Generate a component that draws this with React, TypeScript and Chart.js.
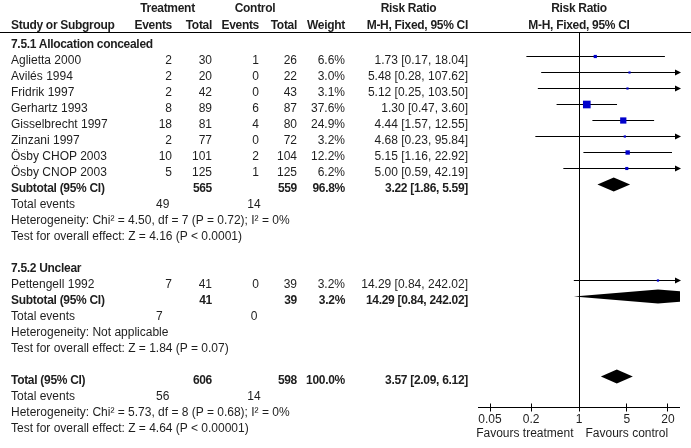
import React, { useEffect, useRef } from "react";
import { Chart, registerables } from "chart.js";

Chart.register(...registerables);

// ---------- data ----------
const subgroups = ["7.5.1 Allocation concealed", "7.5.2 Unclear"];
const studies = [
  "Aglietta 2000",
  "Avilés 1994",
  "Fridrik 1997",
  "Gerhartz 1993",
  "Gisselbrecht 1997",
  "Zinzani 1997",
  "Ösby CHOP 2003",
  "Ösby CNOP 2003",
  "Pettengell 1992",
];
const studyGroup = [1, 1, 1, 1, 1, 1, 1, 1, 2];
const treatEvents = [2, 2, 2, 8, 18, 2, 10, 5, 7];
const treatTotal = [30, 20, 42, 89, 81, 77, 101, 125, 41];
const ctrlEvents = [1, 0, 0, 6, 4, 0, 2, 1, 0];
const ctrlTotal = [26, 22, 43, 87, 80, 72, 104, 125, 39];
const weights = [6.6, 3.0, 3.1, 37.6, 24.9, 3.2, 12.2, 6.2, 3.2];
const rr = [1.73, 5.48, 5.12, 1.3, 4.44, 4.68, 5.15, 5.0, 14.29];
const rrLow = [0.17, 0.28, 0.25, 0.47, 1.57, 0.23, 1.16, 0.59, 0.84];
const rrHigh = [18.04, 107.62, 103.5, 3.6, 12.55, 95.84, 22.92, 42.19, 242.02];

const pooledLabels = ["Subtotal (95% CI)", "Subtotal (95% CI)", "Total (95% CI)"];
const pooledTreatTotal = [565, 41, 606];
const pooledCtrlTotal = [559, 39, 598];
const pooledWeight = [96.8, 3.2, 100.0];
const pooledRR = [3.22, 14.29, 3.57];
const pooledLow = [1.86, 0.84, 2.09];
const pooledHigh = [5.59, 242.02, 6.12];
const totalEventsTreat = [49, 7, 56];
const totalEventsCtrl = [14, 0, 14];
const heterogeneity = [
  "Heterogeneity: Chi² = 4.50, df = 7 (P = 0.72); I² = 0%",
  "Heterogeneity: Not applicable",
  "Heterogeneity: Chi² = 5.73, df = 8 (P = 0.68); I² = 0%",
];
const overallEffect = [
  "Test for overall effect: Z = 4.16 (P < 0.0001)",
  "Test for overall effect: Z = 1.84 (P = 0.07)",
  "Test for overall effect: Z = 4.64 (P < 0.00001)",
];
const axisTicks = [0.05, 0.2, 1, 5, 20];
const axisTickLabels = ["0.05", "0.2", "1", "5", "20"];
const favoursLeft = "Favours treatment";
const favoursRight = "Favours control";

// ---------- layout ----------
const W = 691;
const H = 448;
const FONT = '"Liberation Sans", Arial, Helvetica, sans-serif';
const TEXT = "#1e1e1e";
const ROW0 = 40.5;
const ROWH = 16;
const rowPx = (k: number) => ROW0 + ROWH * k;
const textY = (k: number) => rowPx(k) + 3;

const groupRow: number[] = [];
const studyRow: number[] = [];
const pooledRow: number[] = [];
const eventsRow: number[] = [];
const hetRow: number[] = [];
const testRow: number[] = [];
{
  let k = 0;
  for (let g = 0; g < subgroups.length; g++) {
    groupRow.push(k++);
    studyGroup.forEach((sg, i) => {
      if (sg === g + 1) studyRow[i] = k++;
    });
    pooledRow.push(k);
    eventsRow.push(k + 1);
    hetRow.push(k + 2);
    testRow.push(k + 3);
    k += 5;
  }
  pooledRow.push(k);
  eventsRow.push(k + 1);
  hetRow.push(k + 2);
  testRow.push(k + 3);
}

const fmtCI = (m: number, l: number, h: number) =>
  `${m.toFixed(2)} [${l.toFixed(2)}, ${h.toFixed(2)}]`;

function Txt(props: {
  x: number;
  y: number;
  align?: "left" | "right" | "center";
  bold?: boolean;
  children: any;
}) {
  const { x, y, align = "left", bold = false, children } = props;
  const style: any = {
    position: "absolute",
    top: Math.round(y - 7),
    height: 14,
    lineHeight: "14px",
    whiteSpace: "nowrap",
    fontFamily: FONT,
    fontSize: 12,
    color: TEXT,
    fontWeight: bold ? 700 : 400,
    letterSpacing: bold ? "-0.3px" : "normal",
  };
  if (align === "left") style.left = x;
  else if (align === "right") style.right = W - x;
  else {
    style.left = x - 150;
    style.width = 300;
    style.textAlign = "center";
  }
  return <div style={style}>{children}</div>;
}

const forestPlugin = {
  id: "forest",
  beforeDatasetsDraw(chart: any) {
    const { ctx, chartArea: a } = chart;
    const xs = chart.scales.x;
    const ys = chart.scales.y;
    const snap = (v: number) => Math.round(v - 0.5) + 0.5;
    ctx.save();
    ctx.strokeStyle = "#000";
    ctx.fillStyle = "#000";
    ctx.lineWidth = 1;

    const x1 = snap(xs.getPixelForValue(1));
    const axisY = a.bottom - 0.5;
    // null line
    ctx.beginPath();
    ctx.moveTo(x1, a.top);
    ctx.lineTo(x1, axisY);
    ctx.stroke();
    // axis
    ctx.beginPath();
    ctx.moveTo(a.left, axisY);
    ctx.lineTo(a.right, axisY);
    axisTicks.forEach((t) => {
      const px = snap(xs.getPixelForValue(t));
      ctx.moveTo(px, axisY - 4);
      ctx.lineTo(px, axisY + 4);
    });
    ctx.stroke();

    // CI lines
    rr.forEach((_, i) => {
      const y = snap(ys.getPixelForValue(studyRow[i]));
      const lo = Math.max(rrLow[i], xs.min);
      const hi = Math.min(rrHigh[i], xs.max);
      const xl = xs.getPixelForValue(lo);
      const xh = xs.getPixelForValue(hi);
      ctx.beginPath();
      ctx.moveTo(xl, y);
      ctx.lineTo(xh, y);
      ctx.stroke();
      if (rrHigh[i] > xs.max) {
        ctx.beginPath();
        ctx.moveTo(a.right + 1, y);
        ctx.lineTo(a.right - 5, y - 3);
        ctx.lineTo(a.right - 5, y + 3);
        ctx.closePath();
        ctx.fill();
      }
      if (rrLow[i] < xs.min) {
        ctx.beginPath();
        ctx.moveTo(a.left - 1, y);
        ctx.lineTo(a.left + 5, y - 3);
        ctx.lineTo(a.left + 5, y + 3);
        ctx.closePath();
        ctx.fill();
      }
    });

    // diamonds
    ctx.save();
    ctx.beginPath();
    ctx.rect(a.left, 0, a.right - a.left, chart.height);
    ctx.clip();
    pooledRR.forEach((m, i) => {
      const y = ys.getPixelForValue(pooledRow[i]);
      const xl = xs.getPixelForValue(pooledLow[i]);
      const xm = xs.getPixelForValue(m);
      const xh = xs.getPixelForValue(pooledHigh[i]);
      ctx.beginPath();
      ctx.moveTo(xl, y);
      ctx.lineTo(xm, y - 7);
      ctx.lineTo(xh, y);
      ctx.lineTo(xm, y + 7);
      ctx.closePath();
      ctx.fill();
    });
    ctx.restore();

    // axis labels
    ctx.fillStyle = TEXT;
    ctx.font = `12px ${FONT}`;
    ctx.textBaseline = "alphabetic";
    ctx.textAlign = "center";
    axisTicks.forEach((t, i) => {
      ctx.fillText(axisTickLabels[i], xs.getPixelForValue(t), a.bottom + 15);
    });
    ctx.textAlign = "right";
    ctx.fillText(favoursLeft, x1 - 6, a.bottom + 29);
    ctx.textAlign = "left";
    ctx.fillText(favoursRight, x1 + 6, a.bottom + 29);
    ctx.restore();
  },
};

export default function App() {
  const ref = useRef<HTMLCanvasElement | null>(null);

  useEffect(() => {
    if (!ref.current) return;
    const chart = new Chart(ref.current, {
      type: "scatter",
      data: {
        datasets: [
          {
            data: rr.map((v, i) => ({ x: v, y: studyRow[i] })),
            pointStyle: "rect",
            pointRadius: weights.map((w) => 0.884 * Math.sqrt(w)),
            backgroundColor: "#0000cc",
            borderWidth: 0,
          } as any,
        ],
      },
      options: {
        animation: false,
        responsive: false,
        maintainAspectRatio: false,
        devicePixelRatio: 1,
        events: [],
        layout: { padding: { left: 478, right: 11, top: 32, bottom: 40 } },
        plugins: { legend: { display: false }, tooltip: { enabled: false } },
        scales: {
          x: { type: "logarithmic", min: 1 / 30, max: 30, display: false },
          y: {
            type: "linear",
            min: -0.53125,
            max: 22.96875,
            reverse: true,
            display: false,
          },
        },
      },
      plugins: [forestPlugin],
    });
    return () => chart.destroy();
  }, []);

  const texts: any[] = [];
  let key = 0;
  const add = (x: number, y: number, s: any, align: any = "left", bold = false) =>
    texts.push(
      <Txt key={key++} x={x} y={y} align={align} bold={bold}>
        {s}
      </Txt>
    );

  // headers
  add(167.5, 7.5, "Treatment", "center", true);
  add(255, 7.5, "Control", "center", true);
  add(408.5, 7.5, "Risk Ratio", "center", true);
  add(579, 7.5, "Risk Ratio", "center", true);
  add(11, 25, "Study or Subgroup", "left", true);
  add(172, 25, "Events", "right", true);
  add(212, 25, "Total", "right", true);
  add(259, 25, "Events", "right", true);
  add(297, 25, "Total", "right", true);
  add(345, 25, "Weight", "right", true);
  add(468, 25, "M-H, Fixed, 95% CI", "right", true);
  add(579, 25, "M-H, Fixed, 95% CI", "center", true);

  subgroups.forEach((g, i) => add(11, textY(groupRow[i]), g, "left", true));
  studies.forEach((s, i) => {
    const y = textY(studyRow[i]);
    add(11, y, s);
    add(172, y, String(treatEvents[i]), "right");
    add(212, y, String(treatTotal[i]), "right");
    add(259, y, String(ctrlEvents[i]), "right");
    add(297, y, String(ctrlTotal[i]), "right");
    add(345, y, `${weights[i].toFixed(1)}%`, "right");
    add(468, y, fmtCI(rr[i], rrLow[i], rrHigh[i]), "right");
  });
  pooledLabels.forEach((lab, i) => {
    const y = textY(pooledRow[i]);
    add(11, y, lab, "left", true);
    add(212, y, String(pooledTreatTotal[i]), "right", true);
    add(297, y, String(pooledCtrlTotal[i]), "right", true);
    add(345, y, `${pooledWeight[i].toFixed(1)}%`, "right", true);
    add(468, y, fmtCI(pooledRR[i], pooledLow[i], pooledHigh[i]), "right", true);
    const ye = textY(eventsRow[i]);
    add(11, ye, "Total events");
    add(156, ye, String(totalEventsTreat[i]), "left");
    add(254, ye, String(totalEventsCtrl[i]), "center");
    add(11, textY(hetRow[i]), heterogeneity[i]);
    add(11, textY(testRow[i]), overallEffect[i]);
  });

  return (
    <div
      style={{
        position: "absolute",
        left: 0,
        top: 0,
        width: W,
        height: H,
        background: "#fff",
        overflow: "hidden",
      }}
    >
      <canvas
        ref={ref}
        width={W}
        height={H}
        style={{ position: "absolute", left: 0, top: 0, width: W, height: H }}
      />
      <div
        style={{
          position: "absolute",
          left: 0,
          top: 32,
          width: W,
          height: 1,
          background: "#000",
        }}
      />
      {texts}
    </div>
  );
}
